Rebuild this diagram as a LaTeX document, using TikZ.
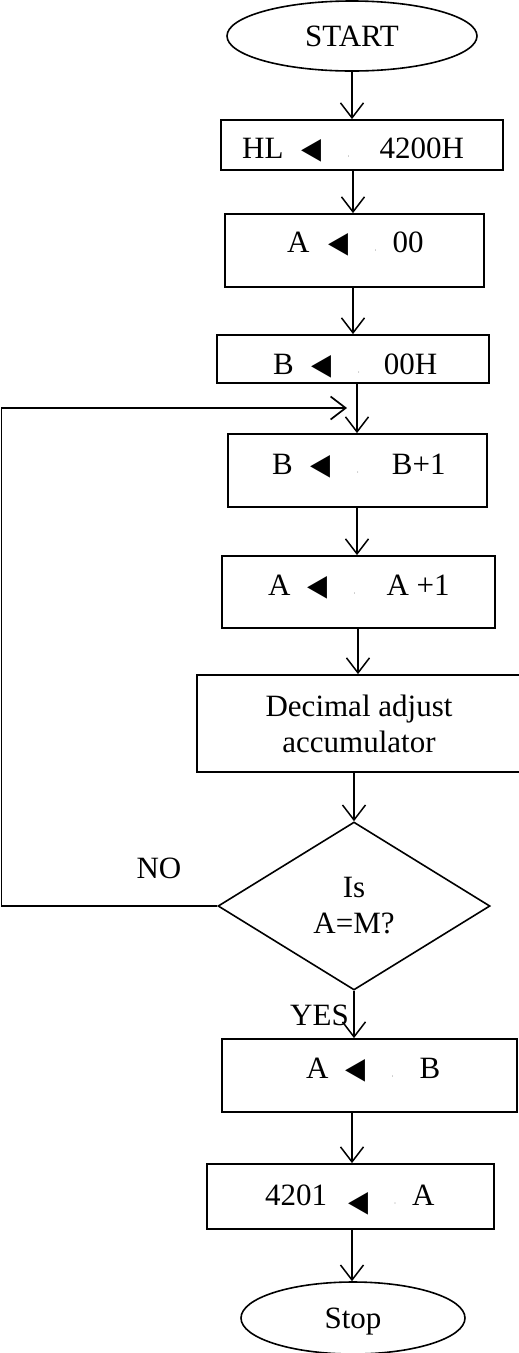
\documentclass[tikz,border=0pt]{standalone}
\usepackage{fontspec}
\setmainfont{Liberation Serif}
\newfontfamily\symf{DejaVu Sans}
\usetikzlibrary{shapes.geometric,arrows.meta}

% assignment arrow and the small separating dot
\newcommand\tri{\resizebox{20pt}{19pt}{\symf ◀}}
\newcommand\middot{\makebox[0pt]{\fontsize{6}{6}\selectfont ·}}
% #1 target, #2 gap before arrow, #3 gap after dot, #4 source
\newcommand\asg[4]{#1\hspace{#2pt}\tri\hspace{27pt}\middot\hspace{#3pt}#4}
\newcommand\asglow[4]{#1\hspace{#2pt}\raisebox{-6pt}{\tri}\hspace{27pt}\middot\hspace{#3pt}#4}

\begin{document}
\begin{tikzpicture}[x=1pt,y=-1pt,
  font=\fontsize{31}{36}\selectfont,
  box/.style={draw, rectangle, inner sep=0pt, line width=1.8pt},
  term/.style={draw, ellipse, inner sep=0pt, line width=1.6pt},
  decision/.style={draw, diamond, inner sep=0pt, line width=1.6pt, align=center},
  txt/.style={anchor=base west, inner sep=0pt},
  lbl/.style={anchor=base, inner sep=0pt},
  arr/.style={-{Straight Barb[length=15pt,width=23pt]}, line width=1.5pt}]
\useasboundingbox (0,0) rectangle (519,1353);

% terminals, process boxes and the decision
\node[term, minimum width=250pt, minimum height=70pt] (start) at (352,36) {START};
\node[box, minimum width=282pt, minimum height=50pt] (b1) at (362,145) {};
\node[txt] (t1) at (242,158) {\asg{HL}{18}{31}{4200H}};
\node[box, minimum width=259pt, minimum height=73pt] (b2) at (354.5,250.5) {};
\node[txt] (t2) at (287,252) {\asg{A}{19}{17}{00}};
\node[box, minimum width=272pt, minimum height=48pt] (b3) at (353,359) {};
\node[txt] (t3) at (273,374) {\asg{B}{18}{25}{00H}};
\node[box, minimum width=259pt, minimum height=73pt] (b4) at (357.5,470.5) {};
\node[txt] (t4) at (272,474) {\asg{B}{18}{34}{B+1}};
\node[box, minimum width=273pt, minimum height=72pt] (b5) at (358.5,592) {};
\node[txt] (t5) at (268,595) {\asg{A}{17}{32}{A +1}};
\node[box, minimum width=324pt, minimum height=97pt, align=center] (b6) at (359,723.5)
  {Decimal adjust\\accumulator};
\node[decision, minimum width=272pt, minimum height=168pt] (dia) at (354,906) {Is\\A=M?};
\node[box, minimum width=295pt, minimum height=73pt] (b7) at (369.5,1075.5) {};
\node[txt] (t7) at (306,1078) {\asg{A}{17}{27}{B}};
\node[box, minimum width=287pt, minimum height=65pt] (b8) at (350.5,1196.5) {};
\node[txt] (t8) at (265,1205) {\asglow{4201}{21}{17}{A}};
\node[term, minimum width=224pt, minimum height=72pt, text depth=0pt] (stop) at (353,1318) {Stop};

% branch labels
\node[lbl] (no) at (159,878) {NO};
\node[lbl] (yes) at (319.5,1025) {YES};

% main flow
\draw[arr] (start.south -| 352,0) -- (b1.north -| 352,0);
\draw[arr] (b1.south -| 353,0) -- (b2.north -| 353,0);
\draw[arr] (b2.south -| 353,0) -- (b3.north -| 353,0);
\draw[arr] (b3.south -| 357,0) -- (b4.north -| 357,0);
\draw[arr] (b4.south -| 357,0) -- (b5.north -| 357,0);
\draw[arr] (b5.south -| 358,0) -- (b6.north -| 358,0);
\draw[arr] (b6.south -| 354,0) -- (dia.north);
\draw[arr] (dia.south) -- (b7.north -| 354,0);
\draw[arr] (b7.south -| 352,0) -- (b8.north -| 352,0);
\draw[arr] (b8.south -| 352,0) -- (stop.north -| 352,0);

% NO branch loops back above the counter step
\coordinate (loopin) at (347,408);
\draw[arr, line width=1.7pt] (dia.west) -- (dia.west -| 1.5,0) |- (loopin);
\end{tikzpicture}
\end{document}
